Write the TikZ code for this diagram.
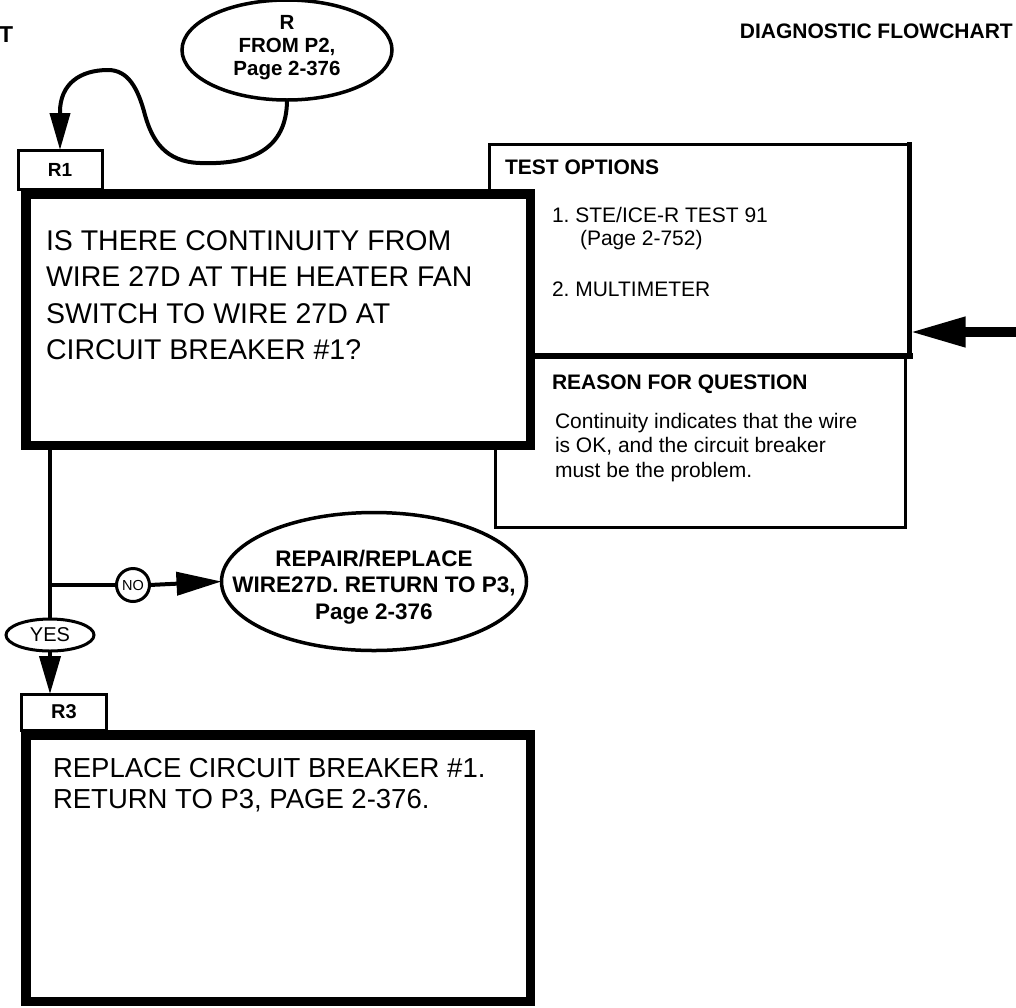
\documentclass[tikz,border=0pt]{standalone}
\usepackage{fontspec}
\setmainfont{Liberation Sans}
\usetikzlibrary{arrows.meta,shapes.geometric}
\begin{document}
\frenchspacing
\begin{tikzpicture}[x=1pt,y=-1pt,
  lbox/.style={draw, line width=3pt, fill=white, inner sep=0pt, outer sep=0pt},
  heavybox/.style={draw, line width=9.5pt, fill=white, inner sep=0pt, outer sep=0pt},
  oval/.style={draw, ellipse, line width=3.5pt, fill=white, inner sep=0pt, outer sep=0pt},
  ovaltxt/.style={inner sep=0pt, outer sep=0pt, align=center},
  conn/.style={line width=4pt},
  txt/.style={inner sep=0pt, outer sep=0pt, anchor=north west, align=left},
  bigtxt/.style={txt, font=\fontsize{28.5}{36.5}\selectfont},
  smalltxt/.style={txt, font=\fontsize{21}{24.5}\selectfont},
  headtxt/.style={txt, font=\fontsize{21}{24.5}\selectfont\bfseries},
]
\useasboundingbox (0,0) rectangle (1016,1007);

% page headers
\node[inner sep=0pt, anchor=base west, font=\fontsize{23}{24}\selectfont\bfseries] (hdl) at (-1,42) {T};
\node[inner sep=0pt, anchor=base east, font=\fontsize{21}{24}\selectfont\bfseries] (hdr) at (1013,38) {DIAGNOSTIC FLOWCHART};

% side boxes
\node[lbox, minimum width=410pt, minimum height=171pt] (reason) at (700,441.5) {};
\node[lbox, minimum width=420pt, minimum height=211.5pt] (test) at (699.5,250.25) {};
\draw[line width=6pt, line cap=rect] (test.south west) -- (test.south east);
\draw[line width=5pt, line cap=rect] (test.north east) -- (test.south east);

\node[headtxt] (testhd) at (505,160) {TEST OPTIONS};
\node[smalltxt, font=\fontsize{21}{23}\selectfont] (opt1) at (552,207) {1. STE/ICE-R TEST 91\\\hspace*{28pt}(Page 2-752)};
\node[smalltxt] (opt2) at (552,282) {2. MULTIMETER};
\node[headtxt] (reasonhd) at (552,375) {REASON FOR QUESTION};
\node[smalltxt] (reasontxt) at (555,413) {Continuity indicates that the wire\\is OK, and the circuit breaker\\must be the problem.};

% R1
\node[lbox, minimum width=84pt, minimum height=39pt, font=\fontsize{19}{19}\selectfont\bfseries] (r1lab) at (60,169.5) {R1};
\node[heavybox, minimum width=504.5pt, minimum height=251.5pt] (r1box) at (278,319.5) {};
\node[bigtxt] (r1txt) at (46,230.5) {IS THERE CONTINUITY FROM\\WIRE 27D AT THE HEATER FAN\\SWITCH TO WIRE 27D AT\\CIRCUIT BREAKER \#1?};

% entry oval
\node[oval, minimum width=210pt, minimum height=100pt] (topell) at (287,50) {};
\node[ovaltxt, font=\fontsize{20.5}{23}\selectfont\bfseries] (topelltxt) at (287,48) {R\\FROM P2,\\Page 2-376};
\draw[conn, -{Triangle[length=37pt,width=20pt]}] (topell.south) .. controls (287,150) and (250,165) .. (200,163) .. controls (165,162) and (152,140) .. (145,115) .. controls (138,88) and (128,70) .. (108,70) .. controls (80,70) and (60,84) .. (60,112) -- (r1lab.north);

% answers
\node[oval, line width=3pt, minimum width=88pt, minimum height=32pt] (yes) at (50,635) {};
\node[ovaltxt, font=\fontsize{20}{20}\selectfont] (yestxt) at (yes.center) {YES};
\node[draw, circle, line width=3pt, minimum size=33pt, inner sep=0pt, outer sep=0pt, fill=white, font=\fontsize{14.5}{15}\selectfont] (no) at (133,585) {NO};
\node[oval, minimum width=305pt, minimum height=138pt] (repair) at (374,581.5) {};
\node[ovaltxt, font=\fontsize{22.5}{26.5}\selectfont\bfseries] (repairtxt) at (374,587) {REPAIR/REPLACE\\WIRE27D. RETURN TO P3,\\Page 2-376};

\draw[conn] (r1box.south -| yes.north) -- (yes.north);
\draw[conn] (no.west -| yes.north) -- (no.west);
\draw[conn, -{Triangle[length=45pt,width=23pt]}] (no.east) -- (repair.west);

% R3
\node[lbox, minimum width=85pt, minimum height=36pt, font=\fontsize{20}{20}\selectfont\bfseries] (r3lab) at (64,712) {R3};
\node[heavybox, minimum width=504.5pt, minimum height=266.5pt] (r3box) at (278,868) {};
\node[bigtxt, font=\fontsize{27.5}{31}\selectfont] (r3txt) at (53,758.3) {REPLACE CIRCUIT BREAKER \#1.\\RETURN TO P3, PAGE 2-376.};
\draw[conn, -{Triangle[length=38pt,width=21pt]}] (yes.south) -- (yes.south |- r3lab.north);

% incoming arrow at right
\coordinate (arrin) at (1016,332);
\draw[line width=10pt, -{Triangle[length=56pt,width=28pt]}] (arrin) -- (arrin -| test.east);
\end{tikzpicture}
\end{document}
